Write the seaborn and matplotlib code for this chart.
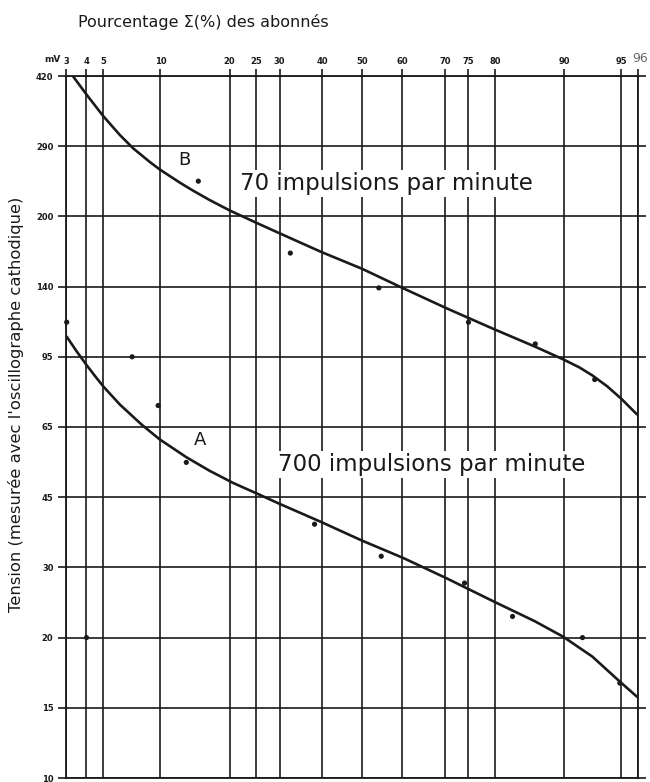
import numpy as np
import matplotlib
matplotlib.use("Agg")
import matplotlib.pyplot as plt
import seaborn as sns
from statistics import NormalDist

# ---------------- data ----------------
x_ticks = [3, 4, 5, 10, 20, 25, 30, 40, 50, 60, 70, 75, 80, 90, 95, 96]
x_tick_labels = ["3", "4", "5", "10", "20", "25", "30", "40", "50", "60",
                 "70", "75", "80", "90", "95", ""]
y_levels = [10, 15, 20, 30, 45, 65, 95, 140, 200, 290, 420]
y_tick_labels = ["10", "15", "20", "30", "45", "65", "95", "140", "200", "290", "420"]

# curve B : 70 impulsions par minute (percent, mV)
curve_b_pct = [3.33, 4.0, 5.0, 6.19, 7.29, 8.87, 9.93, 12.3, 14.1, 16.6, 20.0, 24.9,
               29.8, 39.7, 50.0, 60.2, 70.3, 79.9, 86.3, 89.9, 91.6, 92.8, 94.0,
               94.97, 95.94]
curve_b_mv = [418.5, 380.9, 340.1, 307.7, 286.8, 266.8, 256.4, 239.4, 229.4, 218.2,
              206.4, 194.0, 183.9, 167.0, 153.2, 138.8, 124.3, 110.6, 100.6, 93.7,
              89.7, 85.9, 81.0, 75.9, 69.6]
points_b_pct = [14.9, 32.4, 54.2, 75.0, 86.4, 93.0]
points_b_mv = [241, 166, 139, 115, 102, 84]

# curve A : 700 impulsions par minute
curve_a_pct = [3.03, 3.49, 4.0, 4.48, 5.0, 6.19, 8.05, 9.93, 13.2, 16.6, 20.6, 25.7,
               29.8, 39.7, 50.0, 60.2, 70.3, 79.9, 86.3, 89.9, 92.8, 94.9, 95.94]
curve_a_mv = [106.2, 97.9, 90.9, 85.7, 81.0, 73.4, 65.9, 60.9, 55.5, 51.7, 48.5, 45.6,
              43.4, 39.0, 35.0, 31.7, 28.2, 24.6, 22.0, 20.1, 18.5, 16.7, 15.7]
points_a_pct = [3.03, 4.0, 7.2, 9.75, 13.2, 38.1, 54.8, 74.2, 83.0, 91.9, 94.9]
points_a_mv = [115, 20, 95, 73, 54, 38.5, 32, 27.4, 22.6, 20, 16.6]

# ---------------- scales ----------------
ND = NormalDist()

def x_fwd(p):
    p = np.clip(np.asarray(p, dtype=float), 1e-6, 100 - 1e-6)
    return np.vectorize(lambda v: ND.inv_cdf(v / 100.0), otypes=[float])(p)

def x_inv(z):
    z = np.asarray(z, dtype=float)
    return np.vectorize(lambda v: ND.cdf(v) * 100.0, otypes=[float])(z)

_logs = np.log(np.array(y_levels, dtype=float))
_pos = np.arange(len(y_levels), dtype=float)

def y_fwd(v):
    v = np.clip(np.asarray(v, dtype=float), 1e-9, None)
    return np.interp(np.log(v), _logs, _pos)

def y_inv(p):
    return np.exp(np.interp(np.asarray(p, dtype=float), _pos, _logs))

# ---------------- figure ----------------
sns.set_theme(style="white")
plt.rcParams["font.family"] = ["DejaVu Sans"]

fig = plt.figure(figsize=(6.5, 7.82), dpi=100)
ax = fig.add_axes([66 / 650, 1 - 778 / 782, (638 - 66) / 650, (778 - 76) / 782])
ax.set_xscale("function", functions=(x_fwd, x_inv))
ax.set_yscale("function", functions=(y_fwd, y_inv))
ax.set_xlim(3, 96)
ax.set_ylim(10, 420)

ink = "#1a1a1a"
ax.set_xticks(x_ticks)
ax.set_xticklabels(x_tick_labels)
ax.set_yticks(y_levels)
ax.set_yticklabels(y_tick_labels)
ax.xaxis.set_minor_locator(matplotlib.ticker.NullLocator())
ax.yaxis.set_minor_locator(matplotlib.ticker.NullLocator())
ax.xaxis.tick_top()
ax.tick_params(axis="x", which="major", direction="out", length=5, width=1.2,
               color=ink, labelsize=6, pad=2, top=True, bottom=False)
ax.tick_params(axis="y", which="major", direction="out", length=6, width=1.2,
               color=ink, labelsize=6, pad=3, left=True, right=True, labelright=False)
for lab in ax.get_xticklabels() + ax.get_yticklabels():
    lab.set_fontweight("bold")
    lab.set_color(ink)
ax.grid(True, which="major", color=ink, linewidth=1.2)
for s in ax.spines.values():
    s.set_color(ink)
    s.set_linewidth(1.3)
ax.set_xlabel("")
ax.set_ylabel("")

# curves
sns.lineplot(x=curve_b_pct, y=curve_b_mv, ax=ax, color=ink, linewidth=1.9,
             sort=False, estimator=None, zorder=4)
sns.lineplot(x=curve_a_pct, y=curve_a_mv, ax=ax, color=ink, linewidth=1.9,
             sort=False, estimator=None, zorder=4)
# points
sns.scatterplot(x=points_b_pct, y=points_b_mv, ax=ax, color=ink, s=14,
                edgecolor="none", zorder=5, clip_on=False)
sns.scatterplot(x=points_a_pct, y=points_a_mv, ax=ax, color=ink, s=14,
                edgecolor="none", zorder=5, clip_on=False)

# annotations
box = dict(facecolor="white", edgecolor="none", pad=1.5)
ax.text(13.0, 269, "B", fontsize=13, color=ink, ha="center", va="center", bbox=box, zorder=6)
ax.text(21.8, 238, "70 impulsions par minute", fontsize=16.5, color=ink,
        ha="left", va="center", bbox=box, zorder=6)
ax.text(15.1, 60.7, "A", fontsize=13, color=ink, ha="center", va="center", bbox=box, zorder=6)
ax.text(29.6, 53.3, "700 impulsions par minute", fontsize=16.5, color=ink,
        ha="left", va="center", bbox=box, zorder=6)

# outer texts
fig.text(78 / 650, 1 - 22 / 782, "Pourcentage Σ(%) des abonnés", fontsize=11.5,
         color=ink, ha="left", va="center")
fig.text(16 / 650, 1 - 404 / 782, "Tension (mesurée avec l'oscillographe cathodique)",
         fontsize=11.8, color=ink, rotation=90, ha="center", va="center")
fig.text(52 / 650, 1 - 60 / 782, "mV", fontsize=6.5, fontweight="bold", color=ink,
         ha="center", va="center")
fig.text(640 / 650, 1 - 58 / 782, "96", fontsize=9, color="#666666",
         ha="center", va="center")

fig.savefig("out.png", dpi=100, facecolor="white")
